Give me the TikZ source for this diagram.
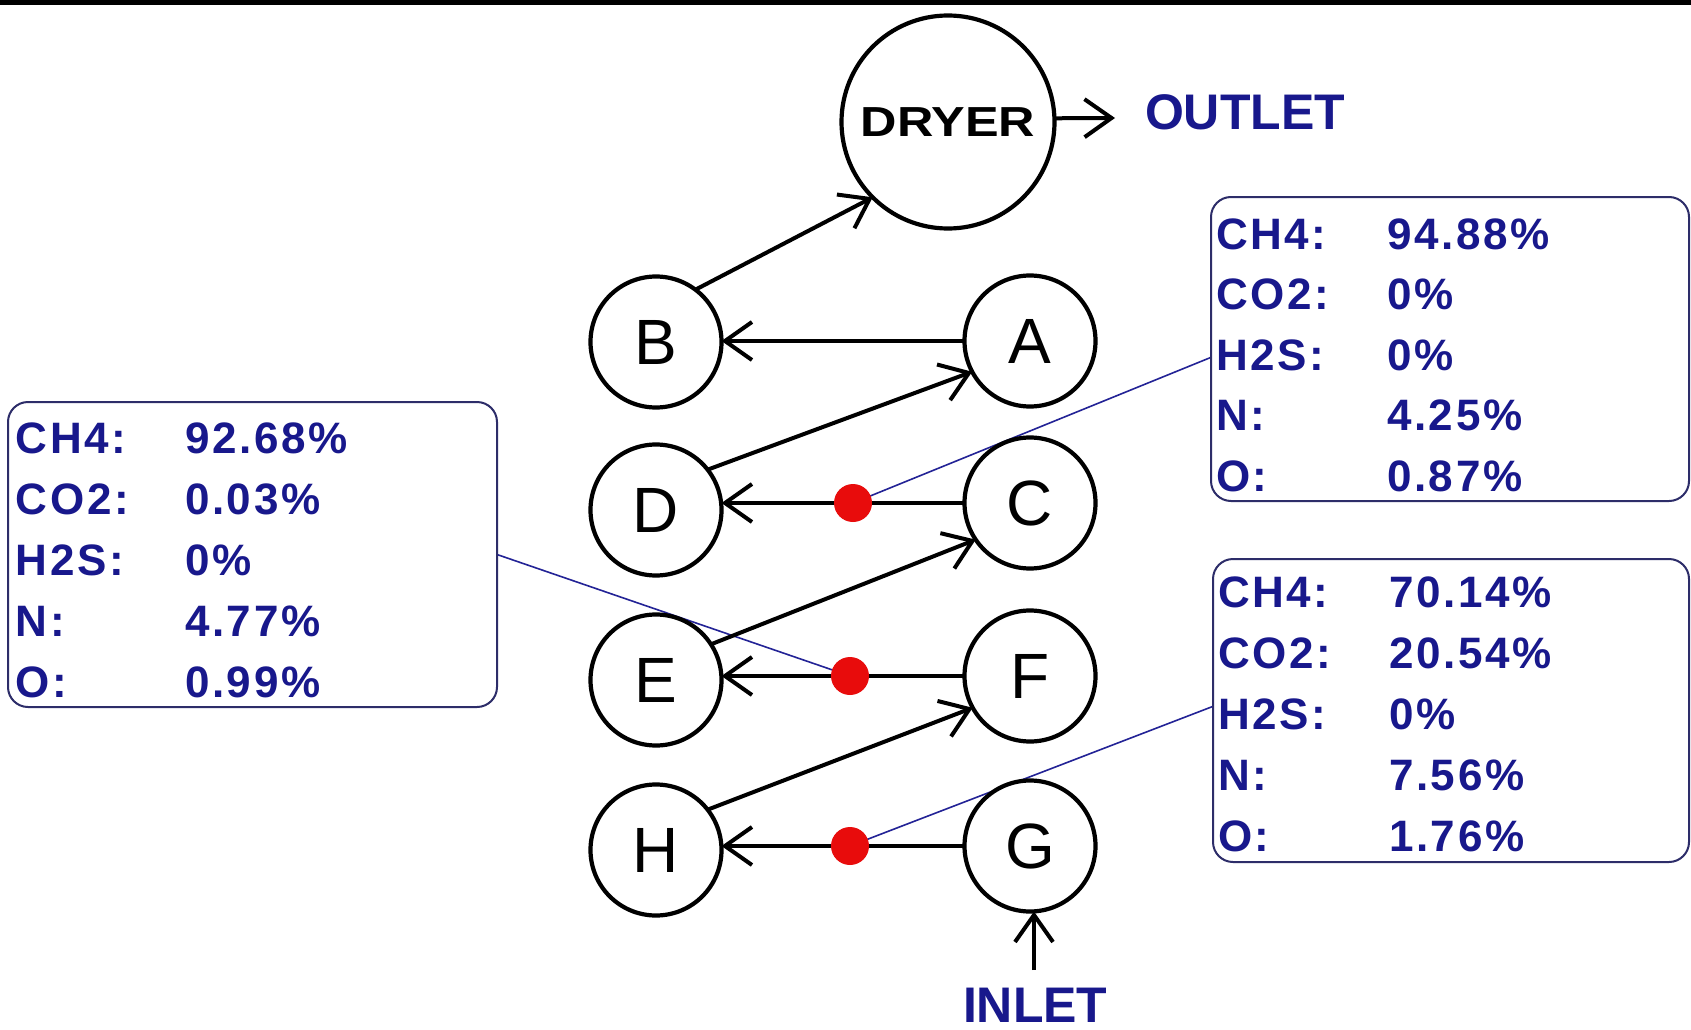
\documentclass[tikz,border=0pt]{standalone}
\usepackage{fontspec}
\setmainfont{Liberation Sans}
\newfontfamily\boxfont[LetterSpace=6]{Liberation Sans}
\newfontfamily\dryerfont[FakeStretch=1.2]{Liberation Sans}
\usetikzlibrary{arrows.meta}
\pgfdeclarelayer{bg}
\pgfsetlayers{bg,main}
\definecolor{txtblue}{RGB}{24,24,140}
\definecolor{boxedge}{RGB}{45,45,105}
\definecolor{linkblue}{RGB}{35,35,150}
\definecolor{dotred}{RGB}{232,12,12}
\begin{document}
\begin{tikzpicture}[x=1pt,y=-1pt,
  every node/.style={inner sep=0pt, outer sep=0pt},
  stage/.style={circle, draw=black, line width=4.2pt, minimum size=131pt, font=\fontsize{64}{64}\selectfont},
  flow/.style={line width=4pt, -{Straight Barb[length=27pt,width=38pt]}},
  link/.style={draw=linkblue, line width=1.6pt},
  infobox/.style={draw=boxedge, line width=2pt, rounded corners=20pt, fill=white},
  lbl/.style={anchor=base west, text=txtblue, font=\boxfont\bfseries\fontsize{44}{44}\selectfont},
  dotst/.style={circle, fill=dotred, minimum size=38pt},
  io/.style={anchor=base west, text=txtblue, font=\bfseries\fontsize{50}{50}\selectfont}
]
\useasboundingbox (0,0) rectangle (1691,1030);
\begin{pgfonlayer}{bg}
  \fill[white] (0,0) rectangle (1691,1030);
  \fill[black] (0,0) rectangle (1691,5);
\end{pgfonlayer}

% info boxes
\node[infobox, minimum width=489pt, minimum height=305pt] (lbox) at (252.5,554.5) {};
\node[infobox, minimum width=478pt, minimum height=304pt] (trbox) at (1450,349) {};
\node[infobox, minimum width=476pt, minimum height=303pt] (brbox) at (1451,710.5) {};

\foreach \lab/\val [count=\i] in {CH4:/92.68\%, CO2:/0.03\%, H2S:/0\%, N:/4.77\%, O:/0.99\%}{
  \node[lbl] (lk\i) at (16,{453+61*(\i-1)}) {\lab};
  \node[lbl] (lv\i) at (185,{453+61*(\i-1)}) {\val};
}
\foreach \lab/\val [count=\i] in {CH4:/94.88\%, CO2:/0\%, H2S:/0\%, N:/4.25\%, O:/0.87\%}{
  \node[lbl] (tk\i) at (1216,{249+60.5*(\i-1)}) {\lab};
  \node[lbl] (tv\i) at (1387,{249+60.5*(\i-1)}) {\val};
}
\foreach \lab/\val [count=\i] in {CH4:/70.14\%, CO2:/20.54\%, H2S:/0\%, N:/7.56\%, O:/1.76\%}{
  \node[lbl] (bk\i) at (1218,{607+61*(\i-1)}) {\lab};
  \node[lbl] (bv\i) at (1389,{607+61*(\i-1)}) {\val};
}

% stages
\node[circle, draw=black, line width=4.2pt, minimum size=213pt] (dryer) at (948,122)
  {\dryerfont\bfseries\fontsize{42}{42}\selectfont DRYER};
\node[stage] (A) at (1030,341) {A};
\node[stage] (B) at (656,342) {B};
\node[stage] (C) at (1030,503) {C};
\node[stage] (D) at (656,510) {D};
\node[stage] (E) at (656,680) {E};
\node[stage] (F) at (1030,676) {F};
\node[stage] (G) at (1030,846) {G};
\node[stage] (H) at (656,850) {H};

\node[io] (outlet) at (1145,130) {OUTLET};
\node[io] (inlet) at (963,1022) {INLET};
\coordinate (outtip) at (1115,118);
\coordinate (intail) at (1034,970);

% flows
\draw[flow] (dryer.2) -- (outtip);
\draw[flow] (B.53) -- (dryer.225);
\draw[flow] (A.west) -- (A.west -| B.east);
\draw[flow] (D.38) -- (A.208);
\draw[flow] (C.west) -- (C.west -| D.east);
\draw[flow] (E.33) -- (C.214);
\draw[flow] (F.west) -- (F.west -| E.east);
\draw[flow] (H.38) -- (F.209);
\draw[flow] (G.west) -- (G.west -| H.east);
\draw[flow] (intail) -- (intail |- G.south);

% sample points
\node[dotst] (s1) at (853,503) {};
\node[dotst] (s2) at (850,676) {};
\node[dotst] (s3) at (850,846) {};

\begin{pgfonlayer}{bg}
  \draw[link] (trbox.182) -- (s1.center);
  \draw[link] (lbox.east) -- (s2.center);
  \draw[link] (brbox.179) -- (s3.center);
\end{pgfonlayer}
\end{tikzpicture}
\end{document}
